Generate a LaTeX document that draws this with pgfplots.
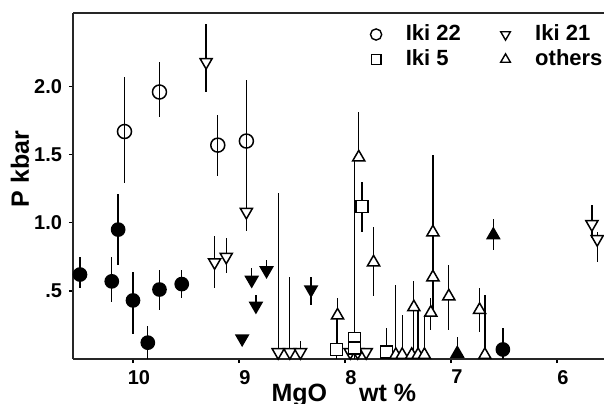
\documentclass[border=0pt]{standalone}
\usepackage{pgfplots}
\pgfplotsset{compat=1.18}
\usepackage{pgfplotstable}
\usepackage{fontspec}
\setmainfont{Liberation Sans}

% x = MgO wt%, y = P kbar, ep/em = error bar up/down
\pgfplotstableread{
x y ep em
10.50 0.62 0.13 0.10
10.20 0.57 0.18 0.15
10.14 0.95 0.26 0.26
10.00 0.43 0.21 0.25
9.86 0.12 0.12 0.12
9.75 0.51 0.14 0.15
9.54 0.55 0.10 0.10
6.51 0.07 0.16 0.07
}\fcirc
\pgfplotstableread{
x y ep em
10.08 1.67 0.40 0.38
9.75 1.96 0.22 0.18
9.20 1.57 0.22 0.23
8.93 1.60 0.45 0.45
}\ocirc
\pgfplotstableread{
x y ep em
9.31 2.18 0.28 0.22
8.93 1.08 0.12 0.14
9.23 0.71 0.19 0.19
9.12 0.75 0.14 0.12
8.63 0.05 1.17 0.05
8.52 0.05 0.55 0.00
8.42 0.05 0.08 0.00
7.95 0.05 0.00 0.00
7.88 0.05 0.00 0.00
7.80 0.05 0.00 0.00
5.67 0.99 0.14 0.10
5.62 0.88 0.05 0.17
}\oinv
\pgfplotstableread{
x y ep em
8.97 0.15 0.00 0.00
8.88 0.58 0.09 0.00
8.84 0.39 0.08 0.00
8.74 0.65 0.08 0.00
8.32 0.51 0.09 0.11
}\finv
\pgfplotstableread{
x y ep em
6.60 0.91 0.12 0.11
6.94 0.04 0.12 0.00
}\ftri
\pgfplotstableread{
x y ep em
7.84 1.12 0.18 0.19
8.08 0.07 0.25 0.07
7.91 0.15 1.32 0.10
7.91 0.08 0.26 0.08
7.61 0.05 0.18 0.05
}\osq
\pgfplotstableread{
x y ep em
7.87 1.48 0.33 0.00
7.73 0.71 0.26 0.25
8.07 0.32 0.13 0.25
7.17 0.93 0.57 0.33
7.17 0.60 0.33 0.24
7.02 0.46 0.23 0.25
7.19 0.34 0.11 0.13
7.35 0.38 0.19 0.38
6.73 0.36 0.16 0.16
6.68 0.03 0.44 0.00
7.52 0.03 0.51 0.00
7.46 0.03 0.29 0.00
7.37 0.03 0.00 0.00
7.31 0.03 0.32 0.00
7.25 0.03 0.29 0.00
}\otri

\pgfplotsset{
  ebar/.style={only marks, black, line width=0.75bp,
    error bars/y dir=both, error bars/y explicit, error bars/error mark=none,
    error bars/error bar style={line width=0.65bp, black}},
  legm/.style={only marks, black, line width=0.7bp, mark size=2.8bp},
}

\begin{document}
\begin{tikzpicture}
\useasboundingbox (-36.5bp,-22.5bp) rectangle (265.5bp,179.5bp);
\begin{axis}[
  at={(0,0)}, anchor=south west,
  scale only axis,
  width=265.5bp, height=173bp,
  x dir=reverse,
  xmin=5.556, xmax=10.566,
  ymin=0, ymax=2.54,
  separate axis lines,
  axis x line*=box,
  axis y line*=left,
  xtick pos=bottom, ytick pos=left,
  axis line style={line width=0.9bp, black!85},
  xtick={10,9,8,7,6}, xticklabels={10,9,8,7,6},
  ytick={0.5,1,1.5,2}, yticklabels={.5,1.0,1.5,2.0},
  /pgf/number format/assume math mode=true,
  tick align=outside,
  major tick length=2bp,
  tick style={line width=0.7bp, black},
  x tick label style={font=\fontsize{10bp}{12bp}\selectfont\bfseries, xshift=3bp},
  y tick label style={font=\fontsize{10bp}{12bp}\selectfont\bfseries},
  xlabel={MgO\hspace{16bp}wt \%},
  ylabel={P kbar},
  xlabel style={font=\fontsize{12.5bp}{14bp}\selectfont\bfseries,
    at={(axis description cs:0.51,-0.1214)}, anchor=base},
  ylabel style={font=\fontsize{12.5bp}{14bp}\selectfont\bfseries,
    at={(axis description cs:-0.083,0.549)}, anchor=base},
  clip=false,
  legend columns=2,
  legend cell align=left,
  legend image code/.code={\draw[mark repeat=2,mark phase=2,#1] plot coordinates {(0bp,0bp)(4bp,0bp)(17bp,0bp)};
    \path (0bp,0bp) (17bp,0bp);},
  legend style={draw=none, fill=none, inner sep=0pt,
    at={(axis description cs:0.5537,0.975)}, anchor=north west,
    font=\fontsize{11bp}{13bp}\selectfont\bfseries,
    nodes={inner sep=1.5bp},
    /tikz/every even column/.append style={column sep=16.5bp}},
]
\addplot[ebar, forget plot, mark=*, mark size=3.3bp, mark options={fill=black}]
  table[x=x, y=y, y error plus=ep, y error minus=em] {\fcirc};
\addplot[ebar, forget plot, mark=o, mark size=3.5bp, mark options={fill=white}]
  table[x=x, y=y, y error plus=ep, y error minus=em] {\ocirc};
\addplot[ebar, forget plot, mark=triangle*, mark size=3.5bp, mark options={fill=white, rotate=180}]
  table[x=x, y=y, y error plus=ep, y error minus=em] {\oinv};
\addplot[ebar, forget plot, mark=triangle*, mark size=3.5bp, mark options={fill=black, rotate=180}]
  table[x=x, y=y, y error plus=ep, y error minus=em] {\finv};
\addplot[ebar, forget plot, mark=triangle*, mark size=3.5bp, mark options={fill=black}]
  table[x=x, y=y, y error plus=ep, y error minus=em] {\ftri};
\addplot[ebar, forget plot, mark=square*, mark size=3bp, mark options={fill=white}]
  table[x=x, y=y, y error plus=ep, y error minus=em] {\osq};
\addplot[ebar, forget plot, mark=triangle*, mark size=3.5bp, mark options={fill=white}]
  table[x=x, y=y, y error plus=ep, y error minus=em] {\otri};

\addlegendimage{legm, mark=o}
\addlegendentry{Iki 22}
\addlegendimage{legm, mark=triangle, mark options={rotate=180}}
\addlegendentry{Iki 21}
\addlegendimage{legm, mark=square, mark size=2.4bp}
\addlegendentry{Iki 5}
\addlegendimage{legm, mark=triangle}
\addlegendentry{others}
\end{axis}
\end{tikzpicture}
\end{document}
